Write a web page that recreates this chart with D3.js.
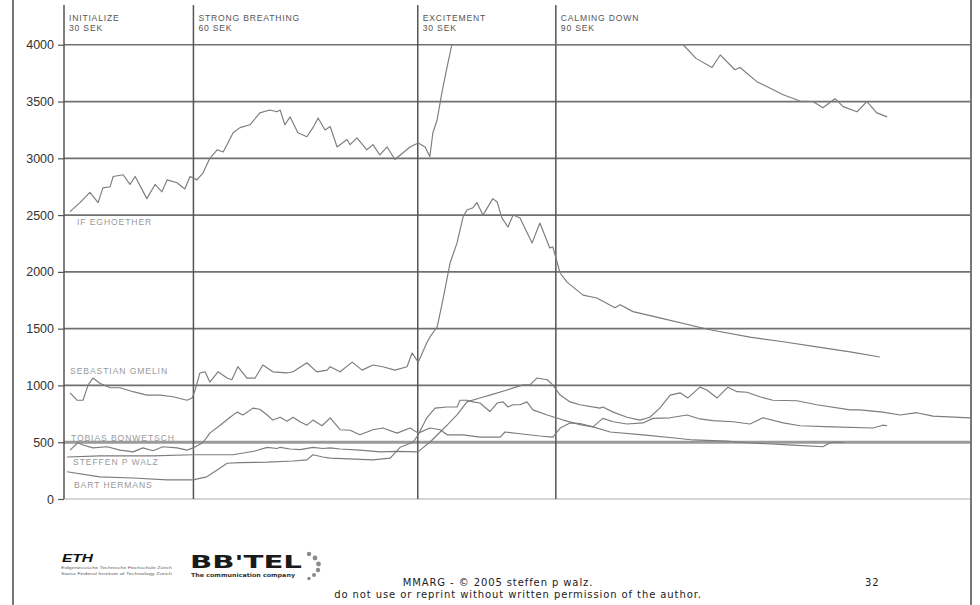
<!DOCTYPE html>
<html>
<head>
<meta charset="utf-8">
<script src="https://cdn.jsdelivr.net/npm/d3@7"></script>
<style>
  body { margin: 0; background: #fff; }
  svg { display: block; }
</style>
</head>
<body>
<div id="chart"></div>
<script>
// size setup
var w = 980;
var h = 605;

// phases of the session (start in seconds) and their labels
var phaseNames = ["INITIALIZE", "STRONG BREATHING", "EXCITEMENT", "CALMING DOWN"];
var phaseLengths = ["30 SEK", "60 SEK", "30 SEK", "90 SEK"];
var phaseStarts = [0, 30, 82, 114];

// y ticks
var yTicks = [0, 500, 1000, 1500, 2000, 2500, 3000, 3500, 4000];

// series names
var seriesNames = ["IF EGHOETHER", "SEBASTIAN GMELIN", "TOBIAS BONWETSCH", "STEFFEN P WALZ", "BART HERMANS"];

// readings [seconds, value]
var eghoether = [
    [1.4, 2530], [3.7, 2610], [6.0, 2700], [7.9, 2610], [9.0, 2740], [10.7, 2750], [11.4, 2840],
    [13.7, 2855], [15.3, 2770], [16.5, 2840], [19.2, 2645], [21.1, 2770], [22.7, 2705], [23.9, 2810],
    [26.2, 2785], [28.0, 2730], [29.2, 2840], [30.8, 2810], [32.2, 2870], [33.8, 3000], [35.5, 3075],
    [36.9, 3055], [39.2, 3225], [40.8, 3270], [43.1, 3295], [45.4, 3400], [47.7, 3425], [49.4, 3410],
    [50.1, 3425], [51.2, 3295], [52.4, 3365], [54.2, 3225], [56.3, 3190], [57.7, 3270], [58.9, 3355],
    [60.5, 3250], [61.7, 3280], [63.3, 3100], [65.6, 3165], [66.3, 3120], [67.9, 3180], [70.2, 3075],
    [71.6, 3120], [73.2, 3030], [74.9, 3100], [76.7, 2990], [80.2, 3100], [82.1, 3135], [83.7, 3100],
    [84.8, 3015], [85.5, 3225], [86.5, 3340], [87.6, 3580], [88.8, 3805], [89.9, 4000], [110, 4000],
    [143.5, 4000], [146.5, 3880], [150.2, 3800], [152.1, 3910], [155.5, 3780], [156.7, 3800],
    [160.6, 3675], [166.7, 3560], [170.6, 3505], [173.6, 3500], [175.9, 3445], [178.7, 3525],
    [180.6, 3455], [183.8, 3410], [186.1, 3500], [188.4, 3400], [190.8, 3365]
];

var gmelin = [
    [1.4, 935], [3.0, 870], [4.4, 870], [5.6, 1005], [6.7, 1065], [8.3, 1020], [10.7, 980], [13.0, 980],
    [16.0, 945], [19.2, 915], [22.3, 915], [25.3, 900], [28.5, 870], [29.7, 890], [30.4, 960],
    [31.5, 1110], [32.7, 1120], [33.8, 1030], [35.7, 1120], [37.8, 1065], [38.9, 1050], [40.3, 1165],
    [42.4, 1065], [44.3, 1065], [46.1, 1180], [48.4, 1120], [51.7, 1110], [53.1, 1120], [56.3, 1200],
    [58.6, 1120], [61.0, 1135], [61.7, 1165], [64.0, 1120], [66.8, 1205], [69.1, 1135], [71.6, 1180],
    [73.9, 1165], [76.7, 1135], [79.5, 1165], [80.7, 1285], [82.1, 1205], [84.1, 1375], [84.8, 1425],
    [86.0, 1490], [86.5, 1515], [87.8, 1750], [89.5, 2080], [91.1, 2255], [92.5, 2485], [93.4, 2545],
    [94.8, 2565], [95.7, 2610], [97.1, 2500], [99.4, 2645], [100.4, 2615], [101.5, 2475], [102.9, 2395],
    [104.1, 2500], [105.7, 2475], [108.5, 2255], [110.3, 2430], [112.6, 2210], [113.3, 2220],
    [115.0, 1990], [116.6, 1910], [120.3, 1795], [123.5, 1770], [127.7, 1685], [128.9, 1710],
    [131.9, 1650], [138.1, 1595], [149.7, 1490], [159.0, 1425], [166.7, 1385], [174.5, 1340],
    [182.2, 1295], [189.1, 1250]
];

var bonwetsch = [
    [1.4, 430], [3.2, 495], [4.4, 475], [6.7, 450], [10.0, 460], [13.0, 430], [16.0, 415], [18.3, 450],
    [20.6, 425], [22.9, 460], [26.2, 450], [28.5, 430], [29.9, 450], [32.2, 495], [33.8, 580],
    [36.2, 650], [38.5, 720], [40.1, 765], [41.5, 740], [43.8, 800], [45.4, 790], [47.1, 740],
    [48.4, 695], [50.1, 720], [51.7, 685], [53.1, 720], [54.7, 680], [56.3, 650], [57.7, 695],
    [59.8, 645], [61.7, 715], [64.0, 610], [66.3, 605], [68.6, 565], [71.6, 610], [73.9, 625],
    [77.2, 580], [80.2, 625], [82.1, 580], [84.8, 625], [87.2, 610], [88.8, 565], [92.5, 565],
    [96.4, 545], [101.1, 545], [102.2, 590], [105.7, 575], [110.3, 555], [113.3, 545], [115.0, 625],
    [117.3, 670], [119.6, 665], [122.6, 635], [124.9, 710], [127.3, 680], [130.5, 660], [134.2, 670],
    [136.5, 710], [140.5, 715], [144.4, 740], [147.4, 705], [150.4, 690], [155.1, 680], [159.0, 660],
    [162.0, 715], [166.7, 670], [170.6, 645], [178.2, 635], [187.5, 625], [189.8, 650], [190.8, 645]
];

var walz = [
    [0.7, 370], [8.3, 380], [20.6, 380], [29.9, 390], [39.2, 390], [44.0, 420], [47.1, 455],
    [49.4, 445], [50.1, 455], [52.4, 440], [54.7, 435], [57.7, 455], [60.0, 445], [61.7, 450],
    [64.0, 440], [68.6, 430], [73.2, 415], [77.0, 420], [82.1, 415], [82.5, 430], [84.8, 500],
    [87.2, 590], [88.8, 650], [91.1, 740], [93.4, 855], [96.4, 890], [98.7, 915], [102.7, 960],
    [106.4, 1005], [108.0, 1005], [109.6, 1065], [112.0, 1050], [113.3, 1005], [115.0, 915],
    [117.3, 855], [119.6, 830], [124.2, 800], [124.9, 810], [127.3, 765], [130.5, 720], [133.5, 695],
    [135.8, 720], [138.1, 800], [140.5, 915], [142.8, 935], [144.6, 890], [147.4, 985], [149.0, 960],
    [151.4, 890], [153.9, 985], [156.0, 945], [158.3, 940], [161.3, 900], [164.3, 870], [169.9, 865],
    [174.5, 830], [182.2, 785], [184.5, 785], [189.8, 765], [193.8, 740], [197.7, 760], [201.4, 730],
    [210, 715]
];

var hermans = [
    [0.7, 240], [8.3, 195], [16.0, 185], [23.9, 168], [29.9, 168], [33.1, 195], [35.5, 255],
    [37.8, 315], [40.8, 320], [47.1, 325], [53.1, 335], [56.3, 345], [57.7, 390], [60.0, 370],
    [61.7, 360], [71.6, 345], [75.6, 360], [77.9, 455], [80.9, 500], [82.1, 565], [84.1, 715],
    [86.0, 800], [88.8, 810], [91.1, 810], [91.8, 870], [93.4, 870], [94.8, 855], [96.4, 845],
    [98.7, 770], [100.4, 845], [101.8, 855], [102.9, 810], [104.1, 830], [105.7, 830], [107.3, 855],
    [108.7, 785], [112.0, 740], [115.7, 695], [119.6, 655], [122.6, 635], [126.6, 590], [134.2, 565],
    [142.1, 535], [145.8, 520], [153.7, 510], [158.3, 495], [169.0, 475], [175.9, 460], [177.6, 495],
    [179.2, 500], [180.6, 495]
];

var allSeries = [eghoether, gmelin, bonwetsch, walz, hermans];

// scales
var xScale = d3.scaleLinear()
    .domain([0, 210])
    .range([64, 970]);

var yScale = d3.scaleLinear()
    .domain([0, 4350])
    .range([499, 5]);

// svg creation
var svg = d3.select("#chart")
    .append("svg")
    .attr("width", w)
    .attr("height", h);

// page frame, left and right
svg.append("line").attr("x1", 13).attr("x2", 13).attr("y1", 0).attr("y2", h)
    .attr("stroke", "#555").attr("stroke-width", 1.6);
svg.append("line").attr("x1", 971).attr("x2", 971).attr("y1", 0).attr("y2", h)
    .attr("stroke", "#555").attr("stroke-width", 1.6);

// horizontal grid
svg.append("g")
    .selectAll("line")
    .data(yTicks)
    .enter()
    .append("line")
    .attr("x1", xScale(0))
    .attr("x2", xScale(210))
    .attr("y1", d => yScale(d))
    .attr("y2", d => yScale(d))
    .attr("stroke", d => d === 0 ? "#c8c8c8" : (d === 500 ? "#9a9a9a" : "#707070"))
    .attr("stroke-width", d => d === 500 ? 3 : 1.7);

// y axis labels + ticks
var yAxis = d3.axisLeft(yScale)
    .tickValues(yTicks)
    .tickSize(6)
    .tickPadding(4)
    .tickFormat(d3.format("d"));

var yAxisGroup = svg.append("g")
    .attr("transform", `translate(${xScale(0)},0)`)
    .call(yAxis);
yAxisGroup.select(".domain").remove();
yAxisGroup.selectAll("line").attr("stroke", "#555").attr("stroke-width", 1.2);
yAxisGroup.selectAll("text")
    .style("font-family", "'Liberation Sans', Arial, sans-serif")
    .style("font-size", "12.5px")
    .attr("fill", "#333");

// phase lines
svg.append("g")
    .selectAll("line")
    .data(phaseStarts)
    .enter()
    .append("line")
    .attr("x1", d => xScale(d))
    .attr("x2", d => xScale(d))
    .attr("y1", yScale(4350))
    .attr("y2", yScale(0))
    .attr("stroke", "#555")
    .attr("stroke-width", 1.5);

// phase labels
var phaseLabels = svg.append("g")
    .style("font-family", "'Liberation Sans', Arial, sans-serif")
    .style("font-size", "8.6px")
    .style("letter-spacing", "0.8px")
    .attr("fill", "#555");

phaseStarts.forEach(function(s, i) {
    phaseLabels.append("text")
        .attr("x", xScale(s) + 5)
        .attr("y", 21)
        .text(phaseNames[i]);
    phaseLabels.append("text")
        .attr("x", xScale(s) + 5)
        .attr("y", 31)
        .text(phaseLengths[i]);
});

// clip to the plot area
svg.append("clipPath")
    .attr("id", "plot-clip")
    .append("rect")
    .attr("x", xScale(0))
    .attr("y", yScale(4350))
    .attr("width", xScale(210) - xScale(0))
    .attr("height", yScale(0) - yScale(4350));

var line = d3.line()
    .x(d => xScale(d[0]))
    .y(d => yScale(d[1]));

svg.append("g")
    .attr("clip-path", "url(#plot-clip)")
    .selectAll("path")
    .data(allSeries)
    .enter()
    .append("path")
    .attr("d", line)
    .attr("fill", "none")
    .attr("stroke", "#7c7c7c")
    .attr("stroke-width", 1.15)
    .attr("stroke-linejoin", "round");

// name labels beside the lines [seconds, value of baseline]
var labelSpots = [[3.0, 2413], [1.4, 1101], [1.6, 511], [2.1, 299], [2.3, 97]];

svg.append("g")
    .style("font-family", "'Liberation Sans', Arial, sans-serif")
    .style("font-size", "8.6px")
    .style("letter-spacing", "0.9px")
    .attr("fill", "#999")
    .selectAll("text")
    .data(seriesNames)
    .enter()
    .append("text")
    .attr("x", (d, i) => xScale(labelSpots[i][0]))
    .attr("y", (d, i) => yScale(labelSpots[i][1]))
    .text(d => d);

// footer: logos
var footer = svg.append("g");

footer.append("text")
    .attr("x", 62).attr("y", 562)
    .attr("textLength", 31).attr("lengthAdjust", "spacingAndGlyphs")
    .style("font-family", "'Liberation Sans', Arial, sans-serif")
    .style("font-size", "11px").style("font-weight", "bold").style("font-style", "italic")
    .attr("fill", "#111")
    .text("ETH");
footer.append("text")
    .attr("x", 61).attr("y", 569)
    .attr("textLength", 111).attr("lengthAdjust", "spacingAndGlyphs")
    .style("font-family", "'Liberation Sans', Arial, sans-serif")
    .style("font-size", "4.2px").attr("fill", "#666")
    .text("Eidgenössische Technische Hochschule Zürich");
footer.append("text")
    .attr("x", 61).attr("y", 574.5)
    .attr("textLength", 111).attr("lengthAdjust", "spacingAndGlyphs")
    .style("font-family", "'Liberation Sans', Arial, sans-serif")
    .style("font-size", "4.2px").attr("fill", "#666")
    .text("Swiss Federal Institute of Technology Zurich");

footer.append("text")
    .attr("x", 190).attr("y", 568)
    .attr("textLength", 112).attr("lengthAdjust", "spacingAndGlyphs")
    .style("font-family", "'DejaVu Sans', sans-serif")
    .style("font-size", "17px").style("font-weight", "900")
    .attr("fill", "#1a1a1a")
    .text("BB'TEL");
footer.append("text")
    .attr("x", 191).attr("y", 577)
    .attr("textLength", 104).attr("lengthAdjust", "spacingAndGlyphs")
    .style("font-family", "'DejaVu Sans', sans-serif")
    .style("font-size", "5.5px").style("font-weight", "bold")
    .attr("fill", "#333")
    .text("The communication company");

var dots = [[309, 554, 2.2], [315, 558, 2.4], [318.5, 564, 2.4], [318, 570, 2.2], [314, 575, 2], [309, 578.5, 1.7]];
footer.selectAll("circle")
    .data(dots)
    .enter()
    .append("circle")
    .attr("cx", d => d[0]).attr("cy", d => d[1]).attr("r", d => d[2])
    .attr("fill", "#8a8a8a");

// footer: copyright text
var note = footer.append("g")
    .style("font-family", "'DejaVu Sans', sans-serif")
    .style("font-size", "10px")
    .style("letter-spacing", "0.9px")
    .attr("fill", "#222");

note.append("text").attr("x", 498).attr("y", 586).attr("text-anchor", "middle")
    .text("MMARG - © 2005 steffen p walz.");
note.append("text").attr("x", 518).attr("y", 598).attr("text-anchor", "middle")
    .text("do not use or reprint without written permission of the author.");
note.append("text").attr("x", 865).attr("y", 586)
    .text("32");
</script>
</body>
</html>
